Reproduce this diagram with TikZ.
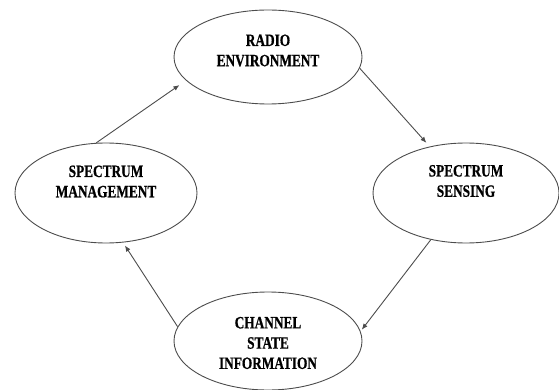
\documentclass[tikz,border=0pt]{standalone}
\usepackage{fontspec}
\setmainfont{Liberation Serif}
\newfontfamily\heavyserif{Liberation Serif Bold}[FakeBold=0.8]
\usetikzlibrary{shapes.geometric,arrows.meta}
\begin{document}
\begin{tikzpicture}[x=1pt,y=-1pt,
  stage/.style={ellipse,draw=black!70,line width=0.9pt,inner sep=0pt},
  caption/.style={font=\heavyserif\fontsize{13.3}{15.6}\selectfont,align=center,text=black,
    inner sep=0pt,yscale=1.3,transform shape},
  flow/.style={draw=black!70,line width=0.9pt,-{Latex[length=6pt,width=5pt]}}]
\useasboundingbox (0,0) rectangle (559,390);

% the four stages of the cycle
\node[stage,minimum width=188pt,minimum height=94pt]  (radio)   at (268,57)  {};
\node[stage,minimum width=186pt,minimum height=100pt] (sense)   at (466,193) {};
\node[stage,minimum width=188pt,minimum height=98pt]  (channel) at (268,341) {};
\node[stage,minimum width=182pt,minimum height=100pt] (manage)  at (106,193) {};

% stage captions (tall, heavy bold capitals)
\node[caption] (radiotext)   at ([yshift=6.5pt]radio.center)   {RADIO\\ENVIRONMENT};
\node[caption] (sensetext)   at ([yshift=12pt]sense.center)    {SPECTRUM\\SENSING};
\node[caption] (channeltext) at ([yshift=-2pt]channel.center)  {CHANNEL\\STATE\\INFORMATION};
\node[caption] (managetext)  at ([yshift=11.5pt]manage.center) {SPECTRUM\\MANAGEMENT};

% cycle arrows
\draw[flow,shorten >=8pt]   (manage.101)  -- (radio.196);
\draw[flow,shorten >=5pt]   (radio.-7)    -- (sense.128);
\draw[flow,shorten >=2pt]   (sense.233)   -- (channel.6.5);
\draw[flow,shorten >=3.5pt] (channel.171) -- (manage.-71);
\end{tikzpicture}
\end{document}
